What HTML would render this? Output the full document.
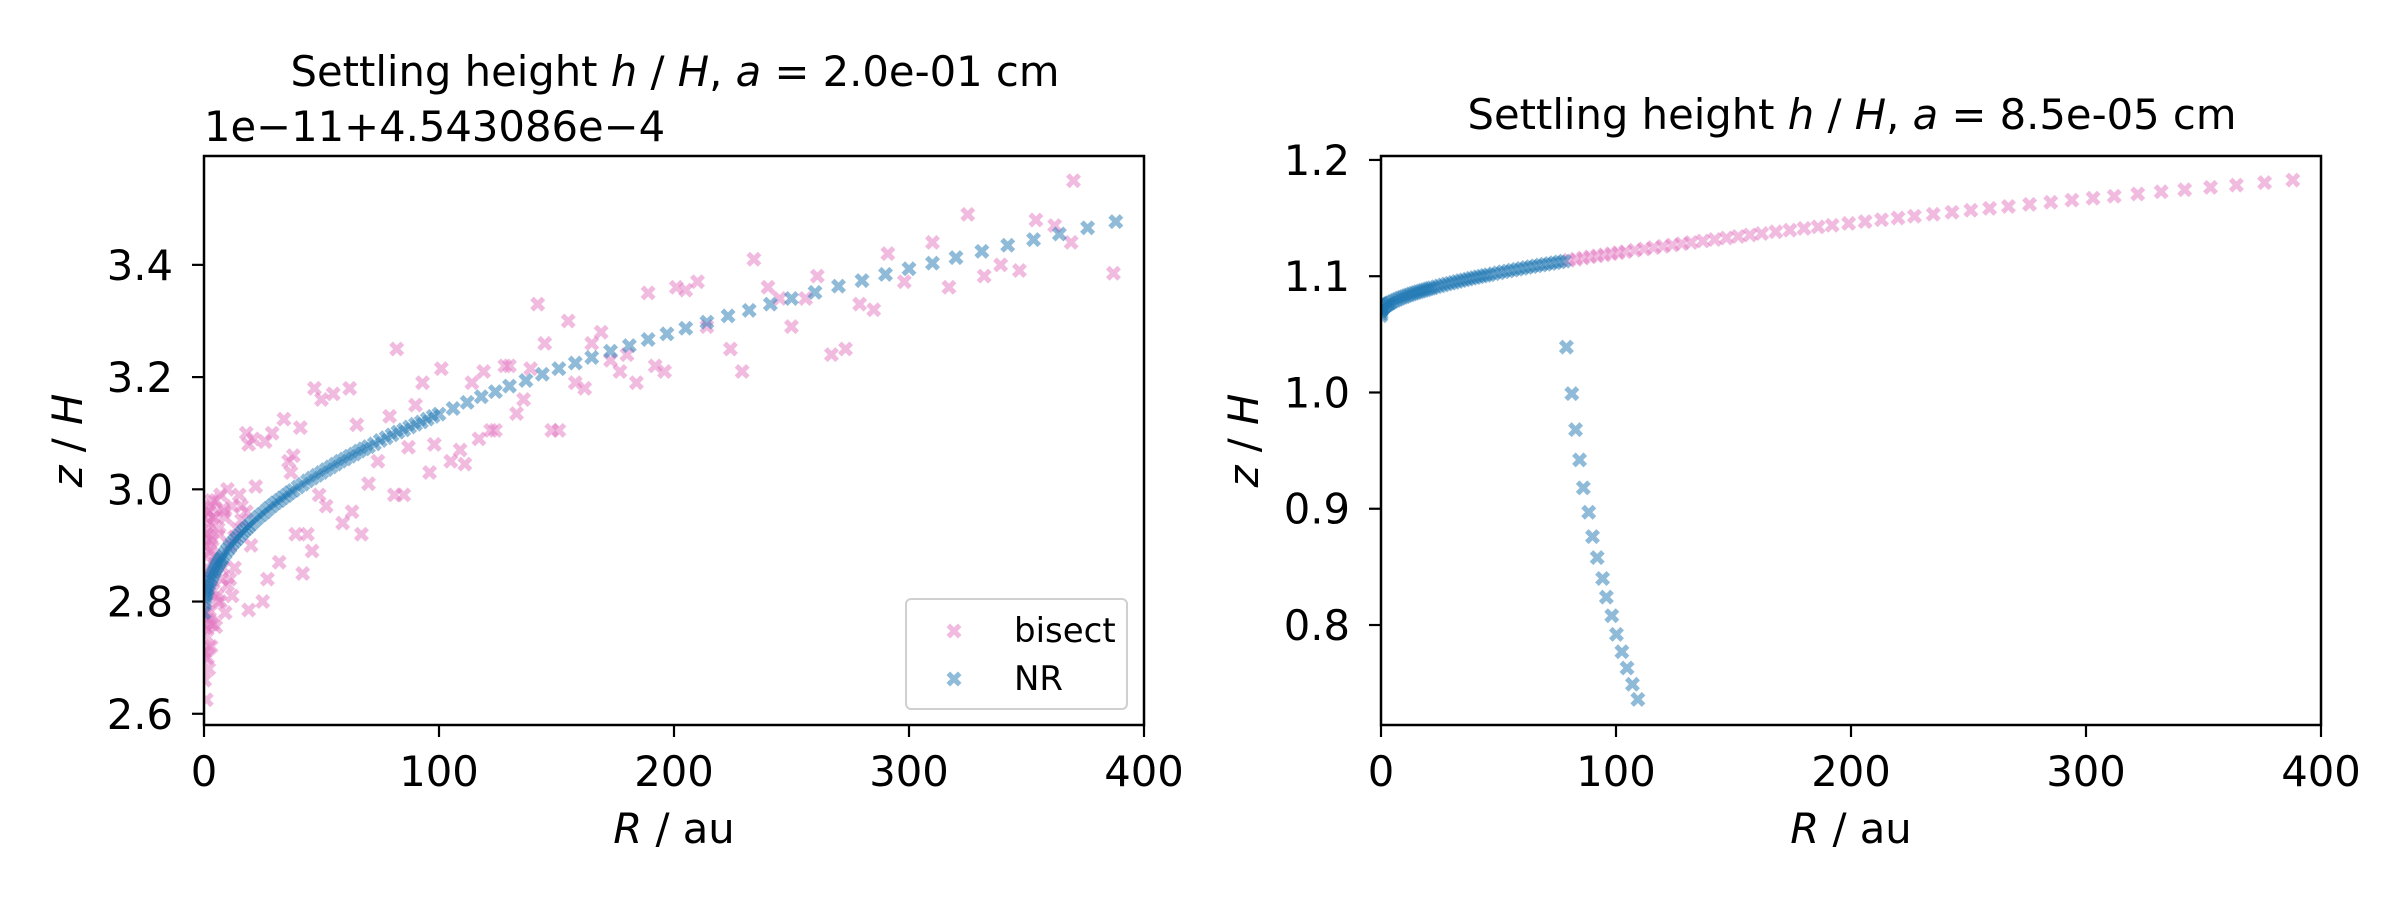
<!DOCTYPE html>
<html><head><meta charset="utf-8">
<style>
html,body{margin:0;padding:0;background:#fff;}
svg{display:block;font-family:"DejaVu Sans","Liberation Sans",sans-serif;}
</style></head>
<body>
<svg id="fig" width="2400" height="900" viewBox="0 0 2400 900" xmlns="http://www.w3.org/2000/svg">
<rect x="0" y="0" width="2400" height="900" fill="#fff"/>
<g id="left"></g>
<g id="right"></g>
</svg>
<script>
// ---- Left panel data ----
const leftNR_R = [0,0.5,1,1.5,2,3,4,5,6,7,8,10,12,14,16,18,20,23,26,29,32,35,38,42,46,50,54,58,62,66,70,75,80,85,90,95,100,106,112,118,124,130,137,144,151,158,165,173,181,189,197,205,214,223,232,241,250,260,270,280,290,300,310,320,331,342,353,364,376,388,
  0.25,0.75,1.25,2.5,3.5,4.5,5.5,6.5,7.5,9,11,13,15,17,19,21.5,24.5,27.5,30.5,33.5,36.5,40,44,48,52,56,60,64,68,72.5,77.5,82.5,87.5,92.5,97.5];
const leftNR_z = [2.780,2.805,2.815,2.823,2.830,2.841,2.851,2.859,2.867,2.874,2.880,2.892,2.903,2.912,2.922,2.930,2.938,2.950,2.960,2.971,2.980,2.989,2.998,3.009,3.020,3.030,3.040,3.050,3.059,3.068,3.076,3.087,3.097,3.106,3.116,3.125,3.134,3.144,3.155,3.165,3.174,3.184,3.194,3.205,3.215,3.225,3.235,3.246,3.256,3.267,3.277,3.287,3.298,3.309,3.319,3.330,3.340,3.351,3.362,3.372,3.383,3.393,3.403,3.413,3.424,3.435,3.445,3.455,3.466,3.477,
  2.798,2.811,2.820,2.836,2.846,2.855,2.863,2.870,2.877,2.886,2.897,2.908,2.917,2.926,2.934,2.944,2.955,2.966,2.976,2.985,2.994,3.004,3.015,3.025,3.035,3.045,3.054,3.063,3.072,3.081,3.092,3.102,3.111,3.120,3.130];
const leftBis_R = [370,325,354,362,369,387,291,298,310,317,332,339,347,234,240,245,256,250,261,267,273,279,285,224,229,214,201,205,210,189,192,196,184,180,177,173,169,165,162,158,155,145,142,148,151,139,136,133,130,128,124,122,119,117,114,111,109,105,101,98,96,93,90,87,85,81,82,79,74,70,67,65,63,62,59,55,52,49,47,50,46,44,41,39,42,37,36,38,34,32,29,26,27,25,21,22,19,18,19,16,13,11,10,8,7,5,3,2,1,2,4,6,3,5,8,10,12,1,3,6,9,12,15,14,7,1,2,0.5,4,9,11,16,18,5,0.5,1,2,0.5,13,20,
  0.3,0.6,0.9,1.2,1.5,1.8,2.2,2.6,3,0.4,0.8,1.4,2,2.8,3.5,4.2,0.2,1.1,1.7,2.4,3.2,0.7,1.6,5.5,6.5,7.5,8.5,4.8,3.8];
const leftBis_z = [3.55,3.49,3.48,3.47,3.44,3.385,3.42,3.37,3.44,3.36,3.38,3.40,3.39,3.41,3.36,3.34,3.34,3.29,3.38,3.24,3.25,3.33,3.32,3.25,3.21,3.29,3.36,3.355,3.37,3.35,3.22,3.21,3.19,3.24,3.21,3.23,3.28,3.26,3.18,3.19,3.30,3.26,3.33,3.105,3.105,3.215,3.16,3.135,3.22,3.22,3.105,3.105,3.21,3.09,3.19,3.045,3.07,3.05,3.215,3.08,3.03,3.19,3.15,3.075,2.99,2.99,3.25,3.13,3.05,3.01,2.92,3.115,2.96,3.18,2.94,3.17,2.97,2.99,3.18,3.16,2.89,2.92,3.11,2.92,2.85,3.03,3.05,3.06,3.125,2.87,3.10,3.085,2.84,2.80,3.09,3.005,2.785,3.10,3.08,2.945,2.915,2.84,3.0,2.965,2.80,2.755,2.72,2.68,2.625,2.96,2.95,2.93,2.90,2.87,2.86,2.83,2.81,2.78,2.76,2.80,2.95,2.97,2.99,2.93,2.99,2.85,2.72,2.70,2.82,2.78,2.90,2.97,2.96,2.98,2.90,2.95,2.82,2.76,2.86,2.90,
  2.66,2.74,2.88,2.92,2.70,2.96,2.78,2.89,2.97,2.80,2.92,2.75,2.94,2.84,2.91,2.95,2.71,2.86,2.93,2.77,2.98,2.83,2.91,2.81,2.92,2.84,2.96,2.88,2.76];
const leftYTicks = [2.6,2.8,3.0,3.2,3.4];
const leftYTickLabels = ["2.6","2.8","3.0","3.2","3.4"];
// ---- Right panel data ----
const rightNR_R = [0,0.3,0.7,1,1.5,2,3,4,5,6,8,10,12,14,16,18,20,22,25,28,31,34,37,40,43,46,50,54,58,62,66,70,74,78,78.9,81.2,82.8,84.5,86.1,88.4,90,92,94.3,95.9,98.2,100.2,102.5,104.7,107,109.3,
  0,0.1,0.1,0.5,2.5,3.5,7,9,11,13,15,17,19,21,23.5,26.5,29.5,32.5,35.5,38.5,41.5,44.5,48,52,56,60,64,68,72,76];
const rightNR_z = [1.070,1.0715,1.0725,1.0732,1.074,1.0748,1.0761,1.0772,1.0783,1.0792,1.081,1.0825,1.084,1.0853,1.0866,1.0878,1.089,1.0901,1.0917,1.0933,1.0947,1.0962,1.0975,1.0988,1.1001,1.1013,1.1029,1.1045,1.106,1.1075,1.1089,1.1103,1.1116,1.113,1.039,0.999,0.968,0.942,0.918,0.897,0.876,0.858,0.840,0.824,0.808,0.792,0.777,0.763,0.749,0.736,
  1.066,1.068,1.0708,1.0721,1.0755,1.0767,1.0801,1.0818,1.0833,1.0847,1.086,1.0872,1.0884,1.0896,1.0909,1.0925,1.094,1.0955,1.0969,1.0982,1.0995,1.1007,1.1021,1.1038,1.1052,1.1067,1.1082,1.1096,1.1109,1.1123];
const rightBis_R = [80,83,86,89,92,95,98,101,104,108,112,116,120,124,128,132,137,142,147,152,157,162,168,174,180,186,192,199,206,213,220,227,235,243,251,259,267,276,285,294,303,312,322,332,342,353,364,376,388];
const rightBis_z = [1.1137,1.1146,1.1156,1.1166,1.1175,1.1184,1.1193,1.1202,1.1211,1.1223,1.1234,1.1246,1.1257,1.1268,1.1279,1.129,1.1303,1.1316,1.1329,1.1342,1.1355,1.1367,1.1382,1.1396,1.1411,1.1424,1.1438,1.1454,1.147,1.1486,1.1501,1.1516,1.1533,1.155,1.1567,1.1584,1.16,1.1618,1.1636,1.1654,1.1671,1.1688,1.1707,1.1726,1.1744,1.1764,1.1784,1.1805,1.1827];
const rightYTicks = [0.8,0.9,1.0,1.1,1.2];
const rightYTickLabels = ["0.8","0.9","1.0","1.1","1.2"];
const xTicks = [0,100,200,300,400];
const xTickLabels = ["0","100","200","300","400"];

const NS = "http://www.w3.org/2000/svg";
const FS = 41.7;
function mk(tag, attrs, parent){
  const e = document.createElementNS(NS, tag);
  for (const k in attrs) e.setAttribute(k, attrs[k]);
  parent.appendChild(e);
  return e;
}
function xMarker(cx, cy, color, parent){
  const s = 7.5, w = 3.6;
  const d = `M${cx-s},${cy-s+w}L${cx-s+w},${cy-s}L${cx},${cy-w}L${cx+s-w},${cy-s}L${cx+s},${cy-s+w}L${cx+w},${cy}L${cx+s},${cy+s-w}L${cx+s-w},${cy+s}L${cx},${cy+w}L${cx-s+w},${cy+s}L${cx-s},${cy+s-w}L${cx-w},${cy}Z`;
  return mk("path", {d: d, fill: color, "fill-opacity": 0.5}, parent);
}
const PINK = "#e377c2", BLUE = "#1f77b4";

function panel(g, L, R, T, B, ymin, ymax, yt, ytl, series, title, offsetText, ylabX){
  const sx = v => L + (v - 0) / 400 * (R - L);
  const sy = v => B - (v - ymin) / (ymax - ymin) * (B - T);
  const clip = "clip" + L;
  const defs = mk("defs", {}, g);
  const cp = mk("clipPath", {id: clip}, defs);
  mk("rect", {x: L, y: T, width: R-L, height: B-T}, cp);
  const marks = mk("g", {"clip-path": `url(#${clip})`}, g);
  series.forEach(s => {
    const sg = mk("g", {}, marks);
    
    
    for (let i = 0; i < s.R.length; i++){
      const m = xMarker(sx(s.R[i]), sy(s.z[i]), s.color, sg);
      
      
    }
  });
  const frame = mk("rect", {x: L, y: T, width: R-L, height: B-T, fill: "none", stroke: "#000", "stroke-width": 2.5}, g);
  
  
  xTicks.forEach((v, i) => {
    const x = sx(v);
    mk("line", {x1: x, x2: x, y1: B, y2: B + 12, stroke: "#000", "stroke-width": 2.2}, g);
    const t = mk("text", {x: x, y: B + 61, "font-size": FS, "text-anchor": "middle", fill: "#000"}, g);
    t.textContent = xTickLabels[i];
    
    
  });
  yt.forEach((v, i) => {
    const y = sy(v);
    mk("line", {x1: L - 12, x2: L, y1: y, y2: y, stroke: "#000", "stroke-width": 2.2}, g);
    const t = mk("text", {x: L - 31, y: y + 15, "font-size": FS, "text-anchor": "end", fill: "#000"}, g);
    t.textContent = ytl[i];
    
    
  });
  const xl = mk("text", {x: (L+R)/2, y: 843, "font-size": FS, "text-anchor": "middle"}, g);
  xl.innerHTML = '<tspan font-style="italic">R</tspan> / au';
  
  
  const yl = mk("text", {x: 0, y: 0, "font-size": FS, "text-anchor": "middle", transform: `translate(${ylabX},${(T+B)/2}) rotate(-90)`}, g);
  yl.innerHTML = '<tspan font-style="italic">z</tspan> / <tspan font-style="italic">H</tspan>';
  
  
  const tt = mk("text", {x: title.x, y: title.y, "font-size": FS, "text-anchor": "middle"}, g);
  tt.innerHTML = title.html;
  
  
  if (offsetText){
    const ot = mk("text", {x: L, y: 141, "font-size": FS}, g);
    ot.textContent = offsetText;
    
    
  }
}

const gl = document.getElementById("left");
panel(gl, 204, 1144, 156, 725, 2.580, 3.594, leftYTicks, leftYTickLabels,
  [{name: "bisect", R: leftBis_R, z: leftBis_z, color: PINK},
   {name: "nr", R: leftNR_R, z: leftNR_z, color: BLUE}],
  {x: 675, y: 86, html: 'Settling height <tspan font-style="italic">h</tspan> / <tspan font-style="italic">H</tspan>, <tspan font-style="italic">a</tspan> = 2.0e-01 cm'},
  "1e\u221211+4.543086e\u22124", 82);

// legend
const lg = mk("g", {}, gl);


mk("rect", {x: 906, y: 599, width: 221, height: 110, rx: 5, fill: "#fff", "fill-opacity": 0.8, stroke: "#d0d0d0", "stroke-width": 2}, lg);
const e1 = xMarker(954, 631, PINK, lg);


const t1 = mk("text", {x: 1014, y: 642, "font-size": 34}, lg);
t1.textContent = "bisect";


const e2 = xMarker(954, 679, BLUE, lg);


const t2 = mk("text", {x: 1014, y: 690, "font-size": 34}, lg);
t2.textContent = "NR";



const gr = document.getElementById("right");
panel(gr, 1381, 2321, 156, 725, 0.714, 1.2034, rightYTicks, rightYTickLabels,
  [{name: "bisect", R: rightBis_R, z: rightBis_z, color: PINK},
   {name: "nr", R: rightNR_R, z: rightNR_z, color: BLUE}],
  {x: 1852, y: 129, html: 'Settling height <tspan font-style="italic">h</tspan> / <tspan font-style="italic">H</tspan>, <tspan font-style="italic">a</tspan> = 8.5e-05 cm'},
  null, 1258);
</script>
</body></html>
